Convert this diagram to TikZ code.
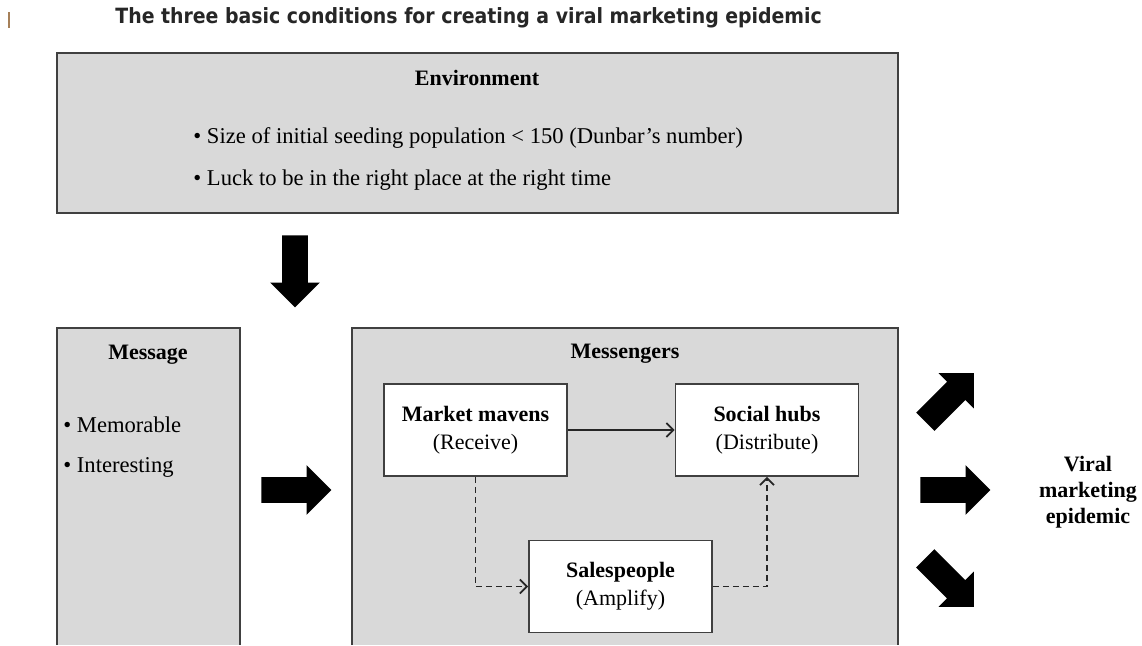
\documentclass[tikz,border=0pt]{standalone}
\usepackage{fontspec}
\setmainfont{Liberation Serif}
\newfontfamily\titlefont{DejaVu Sans Condensed}
\usetikzlibrary{shapes.arrows,arrows.meta}
\definecolor{panelgray}{HTML}{D9D9D9}
\definecolor{edgegray}{HTML}{404040}

\begin{document}
\begin{tikzpicture}[x=0.5pt,y=-0.5pt,
    panelline/.style={draw=edgegray,line width=1pt},
    rolebox/.style={draw=edgegray,fill=white,line width=0.8pt,minimum width=91.5pt,minimum height=46pt,align=center,font=\fontsize{11}{14}\selectfont},
    heading/.style={font=\fontsize{11}{13}\selectfont\bfseries},
    bullet/.style={font=\fontsize{11.3}{13}\selectfont,anchor=west,inner sep=0pt},
    bigarrow/.style={single arrow,fill=black,inner sep=6.25pt,anchor=tail,single arrow head extend=6pt},
    link/.style={-{Straight Barb[length=3.5pt,width=7pt]},draw=black!85,line width=0.9pt},
    dashlink/.style={link,dash pattern=on 3pt off 2pt}]
\useasboundingbox (0,0) rectangle (1142,645);
\fill[white] (0,0) rectangle (1142,645);
\draw[brown!60!gray,line width=1pt] (9,12)--(9,28);

\node[font=\titlefont\bfseries\fontsize{10.5}{12}\selectfont,text=black!85,anchor=west,inner sep=0pt] (title) at (115,18) {The three basic conditions for creating a viral marketing epidemic};

% environment
\fill[panelgray] (57,53) rectangle (898,213);
\draw[panelline] (57,53) rectangle (898,213);
\node[heading] (envhead) at (477,78) {Environment};
\node[bullet] (envone) at (193,138) {\textbullet\ Size of initial seeding population < 150 (Dunbar’s number)};
\node[bullet] (envtwo) at (193,180) {\textbullet\ Luck to be in the right place at the right time};

\node[bigarrow,minimum height=36pt,rotate=-90] (envarrow) at (295,235) {};

% message
\fill[panelgray] (57,328) rectangle (240,645);
\draw[panelline] (57,645)--(57,328)--(240,328)--(240,645);
\node[heading] (msghead) at (148,355) {Message};
\node[bullet] (msgone) at (63,425) {\textbullet\ Memorable};
\node[bullet] (msgtwo) at (63,467) {\textbullet\ Interesting};

\node[bigarrow,minimum height=35pt] (msgarrow) at (261,490) {};

% messengers
\fill[panelgray] (352,328) rectangle (898,645);
\draw[panelline] (352,645)--(352,328)--(898,328)--(898,645);
\node[heading] (mgrhead) at (625,354) {Messengers};
\node[rolebox] (mavens) at (475.5,430) {\textbf{Market mavens}\\(Receive)};
\node[rolebox] (hubs) at (767,430) {\textbf{Social hubs}\\(Distribute)};
\node[rolebox] (sales) at (620.5,586.5) {\textbf{Salespeople}\\(Amplify)};
\draw[link] (mavens) -- (hubs);
\draw[dashlink] (mavens.south) |- (sales.west);
\draw[dashlink] (sales.east) -| (hubs.south);

% outcome
\node[bigarrow,minimum height=34.3pt,rotate=45] (uparrow) at (925,422) {};
\node[bigarrow,minimum height=35pt] (midarrow) at (920,490) {};
\node[bigarrow,minimum height=34.3pt,rotate=-45] (downarrow) at (925,558) {};
\node[heading,align=center] (viral) at (1088,492) {Viral\\marketing\\epidemic};
\end{tikzpicture}
\end{document}
